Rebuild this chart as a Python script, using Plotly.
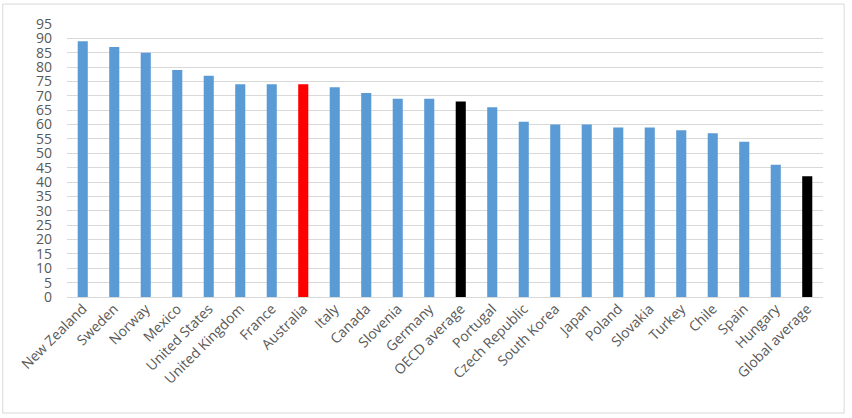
import plotly.graph_objects as go

categories = ["New Zealand", "Sweden", "Norway", "Mexico", "United States", "United Kingdom",
              "France", "Australia", "Italy", "Canada", "Slovenia", "Germany", "OECD average",
              "Portugal", "Czech Republic", "South Korea", "Japan", "Poland", "Slovakia",
              "Turkey", "Chile", "Spain", "Hungary", "Global average"]
values = [89, 87, 85, 79, 77, 74, 74, 74, 73, 71, 69, 69, 68, 66, 61, 60, 60, 59, 59, 58, 57, 54, 46, 42]
highlight = {"Australia": "#FF0000", "OECD average": "#000000", "Global average": "#000000"}
base_color = "#5B9BD5"
y_ticks = list(range(0, 100, 5))

colors = [highlight.get(c, base_color) for c in categories]

fig = go.Figure(go.Bar(x=categories, y=values, marker_color=colors, marker_line_width=0))

fig.update_layout(
    width=852, height=418,
    margin=dict(l=67, r=29, t=24, b=121, autoexpand=False),
    paper_bgcolor="white", plot_bgcolor="white",
    bargap=0.68,
    showlegend=False,
    font=dict(family="Open Sans, sans-serif", size=14, color="#595959"),
    xaxis=dict(tickangle=-45, showgrid=False, ticks="", showline=False, automargin=False,
               tickfont=dict(size=14, color="#595959")),
    yaxis=dict(range=[0, 95], tickvals=y_ticks, showgrid=True, gridcolor="#D9D9D9",
               gridwidth=1, zeroline=True, zerolinecolor="#D9D9D9", zerolinewidth=1,
               ticks="", ticklabelstandoff=14, automargin=False,
               tickfont=dict(size=14, color="#595959")),
    shapes=[dict(type="rect", xref="paper", yref="paper",
                 x0=-0.085, x1=1.028, y0=-0.425, y1=1.073,
                 line=dict(color="#D9D9D9", width=1), fillcolor="rgba(0,0,0,0)", layer="below")],
)

fig.write_html("out.html", config={"displayModeBar": False},
               post_script="document.body.style.margin='0';document.body.style.overflow='hidden';")
